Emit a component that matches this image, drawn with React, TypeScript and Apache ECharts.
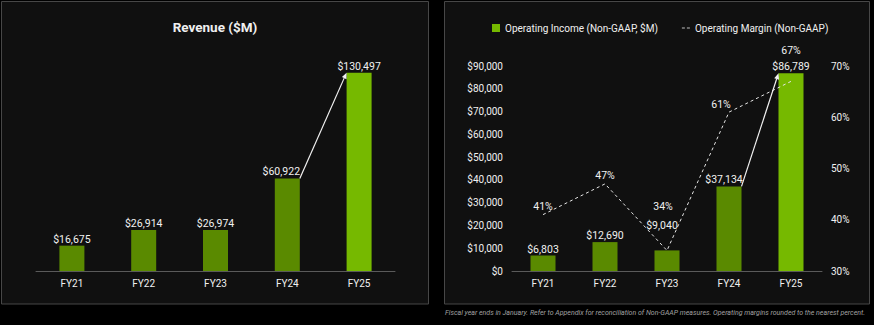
import React, { useEffect, useRef } from "react";
import * as echarts from "echarts";

const years = ["FY21", "FY22", "FY23", "FY24", "FY25"];
const revenue = [16675, 26914, 26974, 60922, 130497];
const opIncome = [6803, 12690, 9040, 37134, 86789];
const opMargin = [41, 47, 34, 61, 67];
const incomeTicks = [0, 90000, 10000];
const marginTicks = [30, 70, 10];
const titleText = "Revenue ($M)";
const incomeName = "Operating Income (Non-GAAP, $M)";
const marginName = "Operating Margin (Non-GAAP)";
const footnote =
  "Fiscal year ends in January. Refer to Appendix for reconciliation of Non-GAAP measures. Operating margins rounded to the nearest percent.";

const DARK = "#5a8a00";
const BRIGHT = "#76b900";
const TEXT = "#f0f0f0";
const FONT = "Roboto";
const BAR_W = 25;
const DASH_ICON =
  "path://M0,0H0.01V0.01H0Z M0,3.5H3V4.5H0Z M5,3.5H8V4.5H5Z M7.99,7.99H8V8H7.99Z";

const money = (v: number) => "$" + v.toLocaleString("en-US");

function arrowItem(params: any, api: any) {
  const a = api.coord([api.value(0), api.value(1)]);
  const b = api.coord([api.value(2), api.value(3)]);
  const s = [a[0] + BAR_W / 2, a[1]];
  const e = [b[0] - BAR_W / 2, b[1]];
  const dx = e[0] - s[0];
  const dy = e[1] - s[1];
  const len = Math.sqrt(dx * dx + dy * dy);
  const ux = dx / len;
  const uy = dy / len;
  const L = 6;
  const W = 2.5;
  const bx = e[0] - ux * L;
  const by = e[1] - uy * L;
  return {
    type: "group",
    children: [
      {
        type: "line",
        shape: { x1: s[0], y1: s[1], x2: bx, y2: by },
        style: { stroke: "#f2f2f2", lineWidth: 1.2 },
      },
      {
        type: "polygon",
        shape: {
          points: [
            [e[0], e[1]],
            [bx - uy * W, by + ux * W],
            [bx + uy * W, by - ux * W],
          ],
        },
        style: { fill: "#f2f2f2" },
      },
    ],
  };
}

export default function App() {
  const ref = useRef<HTMLDivElement>(null);
  useEffect(() => {
    document.body.style.margin = "0";
    document.body.style.background = "#000";
    const chart = echarts.init(ref.current!, undefined, { renderer: "svg" });
    const revLabelOffsets: Record<number, number[]> = { 3: [-6, 0] };
    const incLabelOffsets: Record<number, number[]> = { 2: [-5, -18.5], 3: [-5, 0] };
    const marginLabelOffsets: Record<number, number[]> = { 2: [-4, -36.5], 3: [-8, 0], 4: [0, -23] };
    chart.setOption({
      animation: false,
      backgroundColor: "#000",
      textStyle: { fontFamily: FONT },
      title: {
        text: titleText,
        left: 210,
        top: 15,
        textAlign: "center",
        textStyle: { color: TEXT, fontSize: 13.5, fontWeight: "bold", fontFamily: FONT },
      },
      legend: {
        left: 492,
        top: 23,
        padding: 0,
        itemWidth: 8,
        itemHeight: 8,
        itemGap: 24,
        textStyle: { color: TEXT, fontSize: 10, fontFamily: FONT },
        data: [
          { name: incomeName, icon: "rect" },
          { name: marginName, icon: DASH_ICON, itemStyle: { color: "#bdbdbd" } },
        ],
      },
      graphic: [
        {
          type: "rect",
          z: -10,
          shape: { x: 1.5, y: 1.5, width: 427, height: 302.5 },
          style: { fill: "#101010", stroke: "#474747", lineWidth: 1 },
        },
        {
          type: "rect",
          z: -10,
          shape: { x: 444.5, y: 1.5, width: 425, height: 302.5 },
          style: { fill: "#101010", stroke: "#474747", lineWidth: 1 },
        },
        {
          type: "text",
          x: 445,
          y: 313,
          style: {
            text: footnote,
            fill: "#a0a0a0",
            fontSize: 7,
            fontStyle: "italic",
            fontFamily: FONT,
            textVerticalAlign: "middle",
          },
        },
      ],
      grid: [
        { left: 36, width: 359, top: 58.2, height: 212.8 },
        { left: 512, width: 310, top: 66, height: 205 },
      ],
      xAxis: [
        {
          type: "category",
          gridIndex: 0,
          data: years,
          axisLine: { lineStyle: { color: "#5a5a5a", width: 1 } },
          axisTick: { show: false },
          axisLabel: { color: TEXT, fontSize: 10, margin: 7, fontFamily: FONT },
        },
        {
          type: "category",
          gridIndex: 1,
          data: years,
          axisLine: { lineStyle: { color: "#5a5a5a", width: 1 } },
          axisTick: { show: false },
          axisLabel: { color: TEXT, fontSize: 10, margin: 7, fontFamily: FONT },
        },
      ],
      yAxis: [
        { type: "value", gridIndex: 0, min: 0, max: 140000, show: false },
        {
          type: "value",
          gridIndex: 1,
          min: incomeTicks[0],
          max: incomeTicks[1],
          interval: incomeTicks[2],
          axisLine: { show: false },
          axisTick: { show: false },
          splitLine: { show: false },
          axisLabel: {
            color: TEXT,
            fontSize: 10,
            margin: 9,
            fontFamily: FONT,
            formatter: (v: number) => money(v),
          },
        },
        {
          type: "value",
          gridIndex: 1,
          position: "right",
          min: marginTicks[0],
          max: marginTicks[1],
          interval: marginTicks[2],
          axisLine: { show: false },
          axisTick: { show: false },
          splitLine: { show: false },
          axisLabel: { color: TEXT, fontSize: 10, margin: 9, fontFamily: FONT, formatter: "{value}%" },
        },
      ],
      series: [
        {
          name: "Revenue",
          type: "bar",
          xAxisIndex: 0,
          yAxisIndex: 0,
          barWidth: BAR_W,
          data: revenue.map((v, i) => ({
            value: v,
            itemStyle: { color: i === revenue.length - 1 ? BRIGHT : DARK },
            label: { offset: revLabelOffsets[i] || [0, 0] },
          })),
          label: {
            show: true,
            position: "top",
            distance: 1,
            color: TEXT,
            fontSize: 10.5,
            fontFamily: FONT,
            formatter: (p: any) => money(p.value),
          },
        },
        {
          name: incomeName,
          type: "bar",
          xAxisIndex: 1,
          yAxisIndex: 1,
          barWidth: BAR_W,
          itemStyle: { color: BRIGHT },
          data: opIncome.map((v, i) => ({
            value: v,
            itemStyle: { color: i === opIncome.length - 1 ? BRIGHT : DARK },
            label: { offset: incLabelOffsets[i] || [0, 0] },
          })),
          label: {
            show: true,
            position: "top",
            distance: 1,
            color: TEXT,
            fontSize: 10.5,
            fontFamily: FONT,
            formatter: (p: any) => money(p.value),
          },
        },
        {
          name: marginName,
          type: "line",
          xAxisIndex: 1,
          yAxisIndex: 2,
          symbol: "none",
          z: 5,
          lineStyle: { color: "#e6e6e6", width: 1, type: [3, 3] },
          itemStyle: { color: "#e6e6e6" },
          data: opMargin,
        },
        {
          name: "marginLabels",
          type: "scatter",
          xAxisIndex: 1,
          yAxisIndex: 2,
          symbol: "circle",
          symbolSize: 1,
          z: 5,
          itemStyle: { color: "transparent", opacity: 1 },
          data: opMargin.map((v, i) => ({
            value: v,
            label: { offset: marginLabelOffsets[i] || [0, 0] },
          })),
          label: {
            show: true,
            position: "top",
            distance: 2,
            color: TEXT,
            fontSize: 10.5,
            fontFamily: FONT,
            formatter: (p: any) => p.value + "%",
          },
        },
        {
          name: "revArrow",
          type: "custom",
          xAxisIndex: 0,
          yAxisIndex: 0,
          z: 6,
          renderItem: arrowItem,
          encode: { x: [0, 2], y: [1, 3] },
          data: [[3, revenue[3], 4, revenue[4]]],
        },
        {
          name: "incArrow",
          type: "custom",
          xAxisIndex: 1,
          yAxisIndex: 1,
          z: 6,
          renderItem: arrowItem,
          encode: { x: [0, 2], y: [1, 3] },
          data: [[3, opIncome[3], 4, opIncome[4]]],
        },
      ],
    });
    return () => chart.dispose();
  }, []);
  return <div ref={ref} style={{ width: 874, height: 325 }} />;
}
